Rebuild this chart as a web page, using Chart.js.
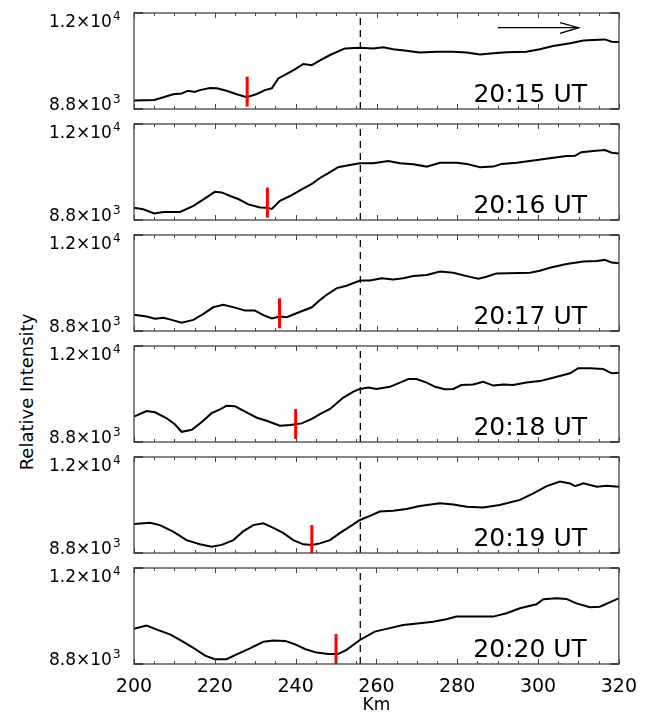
<!DOCTYPE html>
<html>
<head>
<meta charset="utf-8">
<script src="https://cdn.jsdelivr.net/npm/chart.js@4.4.1/dist/chart.umd.min.js"></script>
<style>
  html, body { margin: 0; padding: 0; background: #fff; }
  #wrap { position: relative; width: 649px; height: 720px; overflow: hidden; }
  #wrap canvas { position: absolute; left: 0; }
  #ylab {
    position: absolute; left: 26px; top: 392px;
    transform: translate(-50%, -50%) rotate(-90deg);
    font: 18px "DejaVu Sans"; white-space: nowrap; color: #000;
  }
</style>
</head>
<body>
<div id="wrap">
  <div id="ylab">Relative Intensity</div>
</div>
<script>
// panel times
const times = ['20:15 UT', '20:16 UT', '20:17 UT', '20:18 UT', '20:19 UT', '20:20 UT'];

// intensity profiles (km along slit, relative intensity)
const km1 = [200, 205, 207.3, 209.7, 211.8, 213.4, 215, 216.3, 218.8, 220.5, 222.9, 225.4, 227.9, 230.4, 232.4, 234.1, 235.7, 237.8, 239.8, 241.9, 244, 246, 248.5, 252.2, 255.9, 259.2, 261.7, 264.1, 267.4, 270.7, 274.9, 279, 282.3, 285.6, 288.9, 292.2, 297.1, 300.4, 303.7, 307.9, 311.2, 313.6, 316.5, 318.2, 320];
const int1 = [9080, 9100, 9190, 9290, 9320, 9410, 9370, 9430, 9500, 9490, 9410, 9290, 9190, 9300, 9430, 9490, 9820, 9970, 10120, 10300, 10260, 10420, 10600, 10820, 10840, 10820, 10860, 10790, 10740, 10680, 10710, 10710, 10680, 10620, 10660, 10690, 10710, 10790, 10900, 10990, 11080, 11100, 11120, 11040, 11030];

const km2 = [200, 202.3, 205, 207.3, 211.4, 214.7, 217.2, 220, 221.7, 223.8, 225.8, 228.3, 231.2, 232.8, 234.1, 236.1, 238.6, 241.5, 244, 246, 248.1, 250.5, 253.4, 255.9, 259.2, 262.9, 265.8, 269.1, 272.4, 275.7, 279.8, 282.3, 285.6, 288.9, 291, 294.7, 298.8, 302.9, 307, 309.1, 310.7, 313.6, 316.5, 318.2, 320];
const int2 = [9210, 9160, 9020, 9070, 9070, 9270, 9490, 9740, 9720, 9600, 9500, 9320, 9220, 9210, 9170, 9440, 9600, 9820, 10000, 10200, 10360, 10560, 10630, 10690, 10690, 10770, 10690, 10660, 10580, 10710, 10710, 10670, 10560, 10580, 10670, 10710, 10780, 10860, 10930, 10940, 11060, 11100, 11130, 11040, 11020];

const km3 = [200, 203.1, 205.2, 207.3, 209.3, 211.8, 214.7, 217.2, 219.6, 222.1, 225, 227.5, 229.9, 232, 234.1, 236.1, 237.8, 240.2, 244, 246, 247.6, 250.1, 252.6, 255.9, 258.4, 261.3, 264.1, 266.6, 269.1, 272.4, 275.7, 279, 282.3, 285.2, 287.2, 289.7, 298, 300.4, 302.9, 307, 311.2, 314.5, 316.5, 318.2, 320];
const int3 = [9340, 9280, 9210, 9240, 9170, 9080, 9170, 9370, 9590, 9670, 9580, 9480, 9480, 9330, 9220, 9280, 9260, 9390, 9590, 9830, 10000, 10220, 10310, 10480, 10480, 10560, 10520, 10560, 10630, 10670, 10780, 10740, 10630, 10540, 10610, 10720, 10740, 10810, 10910, 11030, 11120, 11130, 11170, 11080, 11060];

const km4 = [200, 203.1, 205.2, 208.1, 210.1, 211.8, 214.3, 216.7, 219.2, 221.3, 222.9, 225, 227.5, 230.4, 232.8, 236.1, 238.6, 241.5, 244, 246, 248.5, 251.8, 254.3, 255.9, 258, 260, 263.3, 265.8, 267.9, 269.9, 272.4, 274.5, 276.9, 279, 281, 283.9, 286.4, 288.9, 291.4, 293.8, 297.1, 300.4, 303.7, 307.9, 309.9, 312.8, 316.1, 318.2, 320];
const int4 = [9650, 9830, 9790, 9590, 9390, 9140, 9210, 9460, 9760, 9890, 10010, 9990, 9810, 9610, 9510, 9340, 9370, 9420, 9570, 9730, 9900, 10280, 10480, 10570, 10620, 10570, 10640, 10780, 10900, 10900, 10780, 10640, 10560, 10570, 10700, 10720, 10810, 10680, 10720, 10700, 10780, 10830, 10940, 11090, 11260, 11260, 11230, 11090, 11110];

const km5 = [200, 204, 206.4, 209.7, 213, 216.3, 219.2, 221.7, 224.6, 227.1, 229.5, 232, 234.5, 237, 239.4, 241.9, 244, 246, 248.5, 250.9, 253.4, 255.9, 258.4, 260.8, 264.1, 267.4, 270.7, 275.7, 279, 282.3, 286.4, 290.5, 295.5, 298.8, 302.1, 305.4, 307.9, 309.1, 311.2, 314.5, 316.9, 320];
const int5 = [9770, 9810, 9730, 9510, 9230, 9090, 9010, 9070, 9230, 9530, 9730, 9790, 9640, 9460, 9230, 9090, 9070, 9120, 9230, 9460, 9680, 9900, 10040, 10180, 10210, 10270, 10370, 10460, 10420, 10340, 10320, 10400, 10570, 10790, 11030, 11180, 11120, 11030, 11120, 11010, 11040, 11010];

const km6 = [200, 203.1, 206, 208.9, 211.8, 214.7, 217.6, 220, 222.9, 225.4, 228.7, 232, 234.5, 237.4, 239.8, 242.3, 245.2, 248.1, 250.5, 252.6, 255.9, 259.6, 262.5, 266.6, 270.7, 274, 277.3, 279.8, 284.8, 288.9, 292.2, 295.5, 299.6, 301.3, 304.6, 307, 309.5, 312.8, 315.3, 320];
const int6 = [9970, 10080, 9930, 9790, 9570, 9340, 9080, 8960, 8960, 9120, 9320, 9540, 9580, 9570, 9460, 9300, 9180, 9130, 9130, 9270, 9600, 9880, 9970, 10100, 10160, 10210, 10290, 10380, 10380, 10380, 10490, 10660, 10790, 10960, 10990, 10970, 10820, 10690, 10710, 10990];

// red front markers
const markerKm = [228, 233, 236, 240, 244, 250];
const markerLow = [8880, 8880, 8890, 8900, 8790, 8800];
const markerHigh = [9880, 9880, 9890, 9900, 9730, 9800];

// dashed reference position
const refKm = 256;

// arrow in first panel
const arrowKm = [290, 310];
const arrowInt = [11510, 11510];
const arrowHeadKm = [305.4, 310, 305.4];
const arrowHeadInt = [11680, 11510, 11320];

// axes
const xMin = 200, xMax = 320;
const yMin = 8800, yMax = 12000;
const yTickLabels = [['8.8×10', '3'], ['1.2×10', '4']];

const kms = [km1, km2, km3, km4, km5, km6];
const ints = [int1, int2, int3, int4, int5, int6];

function toPoints(xs, ys) {
    return xs.map((x, i) => ({ x: x, y: ys[i] }));
}

function drawSci(ctx, base, exp, x, y) {
    ctx.font = '17px "DejaVu Sans"';
    ctx.textAlign = 'left';
    ctx.textBaseline = 'alphabetic';
    ctx.fillText(base, x, y);
    const w = ctx.measureText(base).width;
    ctx.font = '12px "DejaVu Sans"';
    ctx.fillText(exp, x + w + 1, y - 7);
}

const panelDecor = {
    id: 'panelDecor',
    afterDraw(chart, args, opts) {
        const ctx = chart.ctx;
        const a = chart.chartArea;
        const xs = chart.scales.x;
        const ys = chart.scales.y;
        ctx.save();
        ctx.strokeStyle = '#444';
        ctx.lineWidth = 1.3;
        ctx.strokeRect(a.left, a.top, a.right - a.left, a.bottom - a.top);

        // inward ticks on top and bottom
        ctx.lineWidth = 1;
        for (let v = xMin; v <= xMax; v += 5) {
            const px = Math.round(xs.getPixelForValue(v)) + 0.5;
            const len = v % 20 === 0 ? 5 : 3;
            ctx.beginPath();
            ctx.moveTo(px, a.bottom);
            ctx.lineTo(px, a.bottom - len);
            ctx.moveTo(px, a.top);
            ctx.lineTo(px, a.top + len);
            ctx.stroke();
        }
        // y ticks on both sides
        ctx.lineWidth = 2;
        [yMin, yMax].forEach(v => {
            const py = ys.getPixelForValue(v);
            ctx.beginPath();
            ctx.moveTo(a.left, py);
            ctx.lineTo(a.left + 9, py);
            ctx.moveTo(a.right, py);
            ctx.lineTo(a.right - 9, py);
            ctx.stroke();
        });

        ctx.fillStyle = '#000';
        drawSci(ctx, yTickLabels[1][0], yTickLabels[1][1], 49, ys.getPixelForValue(yMax) + 14);
        drawSci(ctx, yTickLabels[0][0], yTickLabels[0][1], 49, ys.getPixelForValue(yMin) + 1);

        ctx.font = '25px "DejaVu Sans"';
        ctx.textAlign = 'right';
        ctx.textBaseline = 'alphabetic';
        ctx.fillText(opts.time, a.right - 32, a.bottom - 7);
        ctx.restore();
    }
};

const wrap = document.getElementById('wrap');
const charts = [];

times.forEach((t, i) => {
    const last = i === times.length - 1;
    const top = 13 + i * 111;
    const canvas = document.createElement('canvas');
    canvas.width = 649;
    canvas.height = last ? 720 - (top - 4) : 104;
    canvas.style.top = (top - 4) + 'px';
    wrap.appendChild(canvas);

    const datasets = [
        {
            data: toPoints(kms[i], ints[i]),
            borderColor: '#000',
            borderWidth: 2,
            order: 1
        },
        {
            data: toPoints([markerKm[i], markerKm[i]], [markerLow[i], markerHigh[i]]),
            borderColor: '#ff0000',
            borderWidth: 3,
            order: 0
        },
        {
            data: toPoints([refKm, refKm], [yMin, yMax]),
            borderColor: '#000',
            borderWidth: 1.3,
            borderDash: [7, 5],
            order: 2
        }
    ];
    if (i === 0) {
        datasets.push({
            data: toPoints(arrowKm, arrowInt),
            borderColor: '#000',
            borderWidth: 1.3,
            order: 3
        });
        datasets.push({
            data: toPoints(arrowHeadKm, arrowHeadInt),
            borderColor: '#000',
            borderWidth: 1.3,
            order: 3
        });
    }

    charts.push(new Chart(canvas, {
        type: 'line',
        data: { datasets: datasets },
        options: {
            responsive: false,
            animation: false,
            events: [],
            elements: { point: { radius: 0 }, line: { tension: 0 } },
            layout: { padding: { left: 134, right: 30, top: 4, bottom: last ? 0 : 4 } },
            scales: {
                x: {
                    type: 'linear',
                    min: xMin,
                    max: xMax,
                    display: last,
                    grid: { display: false, drawTicks: false },
                    border: { display: false },
                    ticks: {
                        stepSize: 20,
                        color: '#000',
                        padding: 12,
                        maxRotation: 0,
                        font: { family: 'DejaVu Sans', size: 19 }
                    },
                    title: {
                        display: true,
                        text: 'Km',
                        color: '#000',
                        padding: { top: 0, bottom: 4 },
                        font: { family: 'DejaVu Sans', size: 17 }
                    },
                    afterFit: scale => {
                        if (last) scale.height = 56;
                    }
                },
                y: {
                    type: 'linear',
                    min: yMin,
                    max: yMax,
                    display: false
                }
            },
            plugins: {
                legend: { display: false },
                tooltip: { enabled: false },
                panelDecor: { time: t }
            }
        },
        plugins: [panelDecor]
    }));
});
</script>
</body>
</html>
